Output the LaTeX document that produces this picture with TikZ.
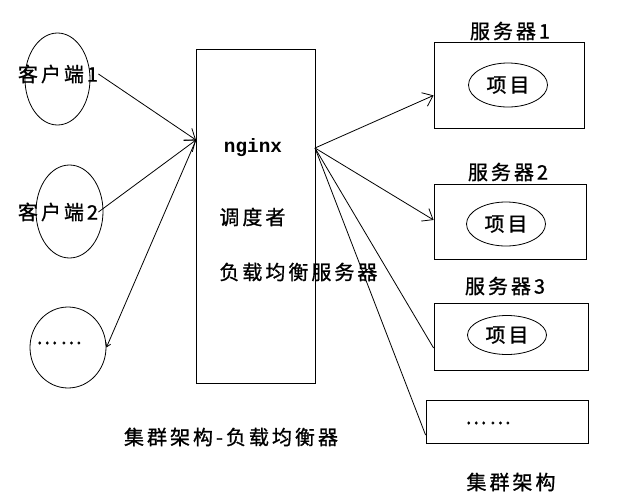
\documentclass[tikz,border=0pt]{standalone}
\usepackage{fontspec}
\setmainfont{Liberation Serif}
\newfontfamily\cjk[LetterSpace=15,FakeBold=1]{Noto Sans CJK SC}
\newfontfamily\monobf{Liberation Mono}
\usetikzlibrary{shapes.geometric,arrows.meta,calc}
\begin{document}
\begin{tikzpicture}[x=0.75pt,y=-0.75pt,
  line width=0.6pt,
  oval/.style={draw, ellipse, inner sep=0pt},
  box/.style={draw, rectangle, inner sep=0pt},
  lbl/.style={font=\cjk\fontsize{15pt}{17pt}\selectfont, inner sep=0pt},
  arr/.style={-{Straight Barb[length=7pt,width=11pt]}},
  arrs/.style={-{Straight Barb[length=3pt,width=4pt]}}]
\useasboundingbox (0,0) rectangle (629,500);
% clients
\node[oval, minimum width=48.75pt, minimum height=69pt] (c1) at (57.5,79) {};
\node[oval, minimum width=50.25pt, minimum height=69.75pt] (c2) at (69.5,211.5) {};
\node[oval, minimum width=57pt, minimum height=60.75pt] (c3) at (68,347.5) {};
\node[lbl] (t1) at (58,74) {客户端1};
\node[lbl] (t2) at (58,212) {客户端2};
\node[lbl] (t3) at (59,343) {……};
% nginx box
\node[box, minimum width=89.25pt, minimum height=250.5pt] (ng) at (255.5,216) {};
\node[font=\monobf\bfseries\fontsize{14.5pt}{16pt}\selectfont, inner sep=0pt] (ngt) at (253,148) {nginx};
\node[lbl, anchor=west] (dd) at (219,217) {调度者};
\node[lbl, anchor=west] (fz) at (219,272) {负载均衡服务器};
\coordinate (nl) at (196,140);
\coordinate (nr) at (315,148);
% servers
\node[box, minimum width=112.5pt, minimum height=64.5pt] (s1) at (509,85) {};
\node[box, minimum width=114pt, minimum height=56.25pt] (s2) at (510,221.5) {};
\node[box, minimum width=115.5pt, minimum height=50.25pt] (s3) at (511,336.5) {};
\node[box, minimum width=121.5pt, minimum height=32.25pt] (s4) at (507,421.5) {};
\node[oval, minimum width=59.25pt, minimum height=33pt] (e1) at (508,85) {};
\node[oval, minimum width=59.25pt, minimum height=33pt] (e2) at (506,224) {};
\node[oval, minimum width=59.25pt, minimum height=29.25pt] (e3) at (507,335) {};
\node[lbl] (p1) at (e1) {项目};
\node[lbl] (p2) at (e2) {项目};
\node[lbl] (p3) at (e3) {项目};
\node[lbl] (d4) at (488,423) {……};
\node[lbl] (l1) at (510,31) {服务器1};
\node[lbl] (l2) at (508,172) {服务器2};
\node[lbl] (l3) at (505,286) {服务器3};
% captions
\node[lbl] (cap) at (231,437) {集群架构-负载均衡器};
\node[lbl] (cap2) at (511,482) {集群架构};
% connectors
\draw[arr] (t1.east) -- (nl);
\draw[arr] (t2.east) -- (nl);
\draw[arrs] (nl) -- (c3.east);
\draw[arr] (nr) -- ($(s1.north west)!0.62!(s1.south west)$);
\draw[arr] (nr) -- ($(s2.north west)!0.48!(s2.south west)$);
\draw (nr) -- ($(s3.north west)!0.67!(s3.south west)$);
\draw (nr) -- ($(s4.north west)!0.81!(s4.south west)$);
\end{tikzpicture}
\end{document}
